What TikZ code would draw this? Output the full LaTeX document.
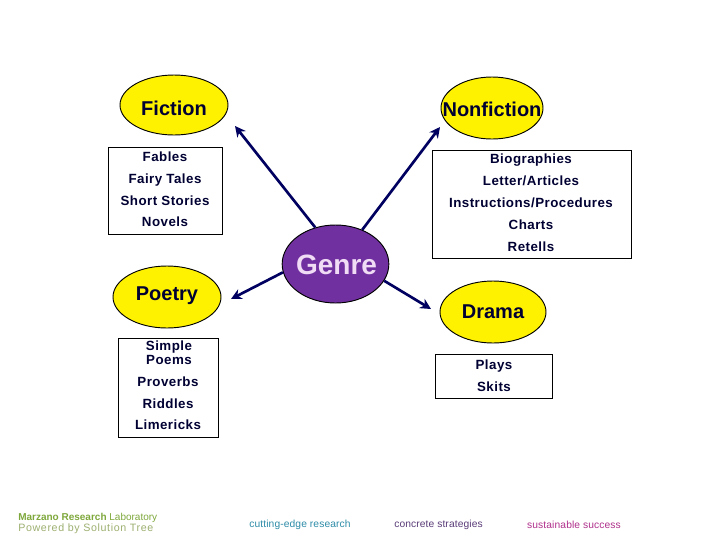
\documentclass[tikz,border=0pt]{standalone}
\usepackage{fontspec}
\setmainfont{Liberation Sans}
\newfontfamily\itemfont[LetterSpace=3.5]{Liberation Sans Bold}
\newfontfamily\tagfont[LetterSpace=1]{Liberation Sans}
\newfontfamily\powerfont[LetterSpace=6]{Liberation Sans}
\definecolor{ink}{HTML}{000033}
\definecolor{arrowc}{HTML}{000060}
\definecolor{genrefill}{HTML}{7030A0}
\definecolor{genretext}{HTML}{F0DCF5}
\definecolor{teal}{HTML}{2E8CA8}
\definecolor{plumc}{HTML}{5A3C78}
\definecolor{magc}{HTML}{B0308C}
\definecolor{greenc}{HTML}{7FA83C}
\definecolor{greyg}{HTML}{9DB070}
\usetikzlibrary{shapes.geometric,arrows.meta}
\tikzset{
  bubble/.style={ellipse,draw=black,line width=0.7pt,fill=yellow,inner sep=0pt,text=ink},
  listbox/.style={rectangle,draw=black,line width=0.7pt,fill=white,inner sep=0pt},
  item/.style={font=\fontsize{10pt}{10.5pt}\selectfont\itemfont,text=ink,inner sep=0pt,align=center},
  itemline/.style={item,text height=8.2pt,text depth=0.9pt},
  head/.style={font=\fontsize{15pt}{17pt}\selectfont\bfseries,text=ink,inner sep=0pt},
  link/.style={draw=arrowc,line width=2pt,-{Stealth[length=8pt,width=8pt]}},
  foot/.style={font=\fontsize{7.7pt}{9pt}\selectfont\tagfont,inner sep=0pt}
}
\begin{document}
\begin{tikzpicture}[x=0.75pt,y=-0.75pt]
\useasboundingbox (0,0) rectangle (720,540);
\fill[white] (0,0) rectangle (720,540);
% boxes
\node[listbox,minimum width=85.5pt,minimum height=65.25pt] (fbox) at (165,190.5) {};
\node[listbox,minimum width=149.25pt,minimum height=81pt] (nbox) at (531.5,204) {};
\node[listbox,minimum width=75pt,minimum height=74.25pt] (pbox) at (168,387.5) {};
\node[listbox,minimum width=87.75pt,minimum height=33pt] (dbox) at (493.5,376) {};
% bubbles
\node[bubble,minimum width=81pt,minimum height=45pt] (fic) at (174,105) {};
\node[bubble,minimum width=76.5pt,minimum height=46.5pt] (non) at (492,108) {};
\node[bubble,minimum width=81pt,minimum height=46.5pt] (poe) at (167,297) {};
\node[bubble,minimum width=79.5pt,minimum height=46.5pt] (dra) at (493,312) {};
\node[ellipse,draw=black,line width=0.7pt,fill=genrefill,inner sep=0pt,minimum width=80pt,minimum height=58.5pt] (gen) at (335.5,264) {};
% bubble labels
\node[head] (ficl) at (174,108) {Fiction};
\node[head] (nonl) at (492,109) {Nonfiction};
\node[head] (poel) at (167,296) {Poetry};
\node[head] (dral) at (493,312) {Drama};
\node[font=\fontsize{21pt}{23pt}\selectfont\bfseries,text=genretext,inner sep=0pt] (genl) at (336.5,265) {Genre};
% arrows
\coordinate (tf) at (235,126);
\coordinate (tn) at (440,127);
\coordinate (tp) at (231,299);
\coordinate (td) at (431,309);
\draw[link] (gen.119.5) -- (tf);
\draw[link] (gen.52) -- (tn);
\draw[link] (gen.189.7) -- (tp);
\draw[link] (gen.-19.3) -- (td);
% fiction list
\node[itemline] (f1) at (165,157) {Fables};
\node[itemline] (f2) at (165,179) {Fairy Tales};
\node[itemline] (f3) at (165,201) {Short Stories};
\node[itemline] (f4) at (165,222) {Novels};
% nonfiction list
\node[itemline] (n1) at (531,159) {Biographies};
\node[itemline] (n2) at (531,181) {Letter/Articles};
\node[itemline] (n3) at (531,203) {Instructions/Procedures};
\node[itemline] (n4) at (531,225) {Charts};
\node[itemline] (n5) at (531,247) {Retells};
% poetry list
\node[item] (p1) at (169,353) {Simple\\Poems};
\node[itemline] (p2) at (168,382) {Proverbs};
\node[itemline] (p3) at (168,404) {Riddles};
\node[itemline] (p4) at (168,425) {Limericks};
% drama list
\node[itemline] (d1) at (494,365) {Plays};
\node[itemline] (d2) at (494,387) {Skits};
% footer
\node[font=\fontsize{7.5pt}{8pt}\selectfont\bfseries,text=greenc,inner sep=0pt,anchor=west] (m1) at (18,518) {Marzano Research \textmd{Laboratory}};
\node[font=\fontsize{8pt}{9pt}\selectfont\powerfont,text=greyg,inner sep=0pt,anchor=west] (m2) at (18,529) {Powered by Solution Tree};
\node[foot,text=teal] (s1) at (300,525) {cutting-edge research};
\node[foot,text=plumc] (s2) at (438.5,525) {concrete strategies};
\node[foot,text=magc] (s3) at (574,525) {sustainable success};
\end{tikzpicture}
\end{document}
